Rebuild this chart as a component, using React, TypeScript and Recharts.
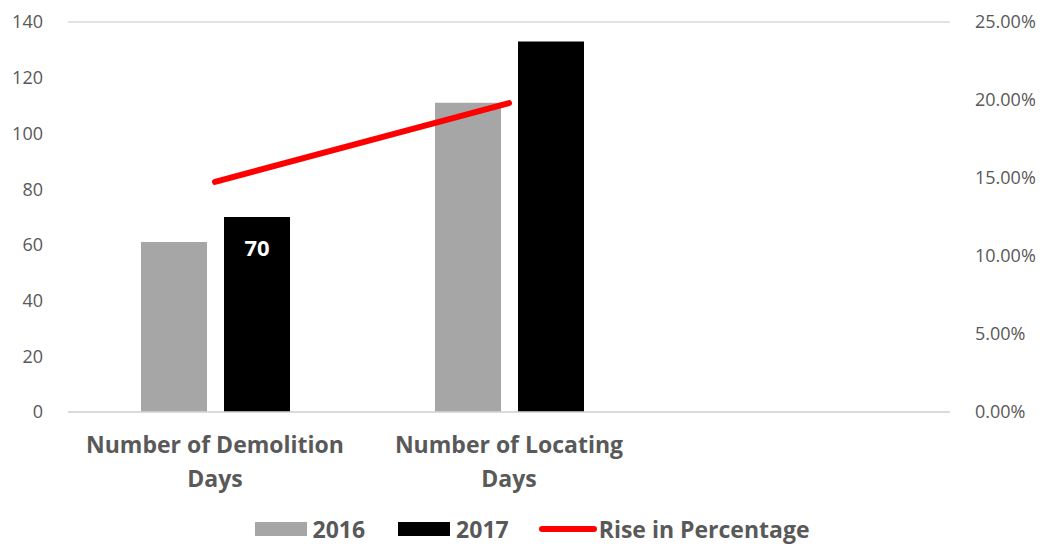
import React from "react";
import {
  ComposedChart,
  Bar,
  Line,
  XAxis,
  YAxis,
  CartesianGrid,
  Legend,
  LabelList,
} from "recharts";

const categories = ["Number of Demolition Days", "Number of Locating Days", ""];
const values2016: (number | null)[] = [61, 111, null];
const values2017: (number | null)[] = [70, 133, null];
const risePct: (number | null)[] = [0.1475, 0.198, null];
const leftTicks = [0, 20, 40, 60, 80, 100, 120, 140];
const rightTicks = [0, 0.05, 0.1, 0.15, 0.2, 0.25];

const data = categories.map((c, i) => ({
  name: c,
  y2016: values2016[i],
  y2017: values2017[i],
  rise: risePct[i],
}));

const FONT = "'Open Sans', sans-serif";
const TXT = "#595959";

const CatTick = (props: any) => {
  const { x, y, payload } = props;
  const s: string = payload.value || "";
  if (!s) return null;
  const k = s.lastIndexOf(" ");
  const lines = [s.slice(0, k), s.slice(k + 1)];
  return (
    <g>
      {lines.map((l, i) => (
        <text
          key={i}
          x={x}
          y={y + 33 + i * 34}
          textAnchor="middle"
          fontFamily={FONT}
          fontWeight={700}
          fontSize={23}
          fill={TXT}
        >
          {l}
        </text>
      ))}
    </g>
  );
};

const LegendContent = () => {
  const item = (sw: React.ReactNode, label: string, gapL: number, gapR: number) => (
    <div style={{ display: "flex", alignItems: "center", marginRight: gapR }}>
      {sw}
      <span
        style={{
          fontFamily: FONT,
          fontWeight: 700,
          fontSize: 23,
          color: TXT,
          marginLeft: gapL,
          lineHeight: "28px",
        }}
      >
        {label}
      </span>
    </div>
  );
  return (
    <div
      style={{
        display: "flex",
        justifyContent: "center",
        alignItems: "center",
        paddingTop: 3,
        paddingLeft: 16,
      }}
    >
      {item(<div style={{ width: 52, height: 14, background: "#a6a6a6" }} />, "2016", 6, 33)}
      {item(<div style={{ width: 52, height: 14, background: "#000000" }} />, "2017", 6, 30)}
      {item(
        <div style={{ width: 58, height: 6, borderRadius: 3, background: "#ff0000" }} />,
        "Rise in Percentage",
        2,
        0
      )}
    </div>
  );
};

const ValueLabel = (props: any) => {
  const { x, y, width, value, index } = props;
  if (index !== 0) return null;
  return (
    <text
      x={x + width / 2}
      y={y + 39}
      textAnchor="middle"
      fontFamily={FONT}
      fontWeight={700}
      fontSize={22}
      fill="#ffffff"
    >
      {value}
    </text>
  );
};

export default function App() {
  return (
    <div style={{ position: "absolute", left: 0, top: 0 }}>
      <ComposedChart
        width={1048}
        height={546}
        data={data}
        margin={{ top: 22, right: 0, left: 0, bottom: 0 }}
        barGap={17}
      >
        <CartesianGrid vertical={false} stroke="#d9d9d9" strokeWidth={1.5} />
        <XAxis
          dataKey="name"
          xAxisId="x"
          height={100}
          tick={<CatTick />}
          tickLine={false}
          axisLine={{ stroke: "#d9d9d9", strokeWidth: 1.5 }}
          interval={0}
        />
        <YAxis
          yAxisId="left"
          width={68}
          domain={[0, 140]}
          ticks={leftTicks}
          tickLine={false}
          axisLine={false}
          tickSize={0}
          tickMargin={25}
          tick={{ fill: TXT, fontSize: 18, fontFamily: FONT }}
        />
        <YAxis
          yAxisId="right"
          orientation="right"
          width={98}
          domain={[0, 0.25]}
          ticks={rightTicks}
          tickLine={false}
          axisLine={false}
          tickSize={0}
          tickMargin={25}
          tickFormatter={(v: number) => (v * 100).toFixed(2) + "%"}
          tick={{ fill: TXT, fontSize: 18, fontFamily: FONT, textAnchor: "start" }}
        />
        <Legend verticalAlign="bottom" height={34} content={<LegendContent />} />
        <Bar
          xAxisId="x"
          yAxisId="left"
          dataKey="y2016"
          name="2016"
          fill="#a6a6a6"
          barSize={66}
          isAnimationActive={false}
        />
        <Bar
          xAxisId="x"
          yAxisId="left"
          dataKey="y2017"
          name="2017"
          fill="#000000"
          barSize={66}
          isAnimationActive={false}
        >
          <LabelList dataKey="y2017" content={<ValueLabel />} />
        </Bar>
        <Line
          xAxisId="x"
          yAxisId="right"
          dataKey="rise"
          name="Rise in Percentage"
          stroke="#ff0000"
          strokeWidth={6}
          strokeLinecap="round"
          dot={false}
          activeDot={false}
          connectNulls={false}
          isAnimationActive={false}
        />
      </ComposedChart>
    </div>
  );
}
